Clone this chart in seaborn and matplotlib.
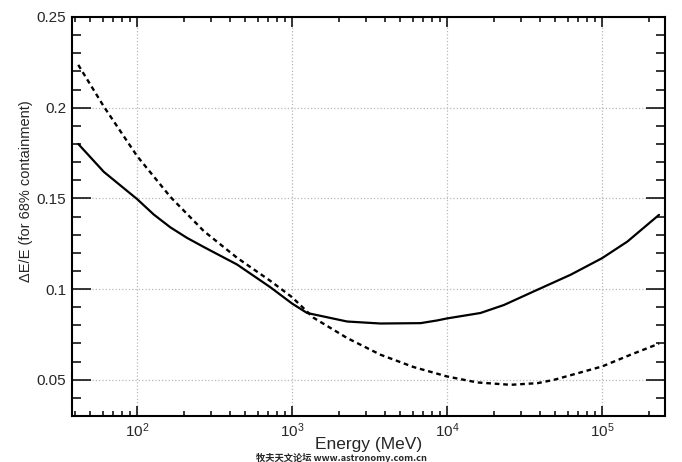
import matplotlib
matplotlib.use("Agg")
import matplotlib.pyplot as plt
import matplotlib.ticker as mticker
import pandas as pd
import seaborn as sns

# --- DATA ---
# solid curve
energy_solid = [41.7, 61, 100, 128, 164, 210, 269, 442, 724, 1000, 1250, 2265, 3715,
                6745, 8650, 10000, 16440, 23280, 38280, 62800, 100000, 145900, 233300]
res_solid = [0.180, 0.1646, 0.1496, 0.1411, 0.1340, 0.1282, 0.1232, 0.1135, 0.101,
             0.0920, 0.0868, 0.0821, 0.0810, 0.0812, 0.0827, 0.0838, 0.0868, 0.0912,
             0.0996, 0.1079, 0.117, 0.1262, 0.1409]

# dashed curve
energy_dashed = [41.7, 61, 100, 164, 269, 442, 724, 1000, 1374, 2265, 3715, 6080,
                 10000, 15670, 25700, 38280, 48750, 100000, 153100, 233300]
res_dashed = [0.2236, 0.2006, 0.1733, 0.1508, 0.1320, 0.1172, 0.1045, 0.0955, 0.0842,
              0.073, 0.0638, 0.057, 0.0518, 0.0485, 0.0472, 0.0481, 0.0499, 0.0573,
              0.0638, 0.0699]

y_ticks = [0.05, 0.1, 0.15, 0.2, 0.25]

XLIM = (38, 2.55e5)
YLIM = (0.03, 0.25)

sns.set_theme(style="white")
plt.rcParams['font.family'] = ['Liberation Sans', 'DejaVu Sans']
plt.rcParams['mathtext.fontset'] = 'custom'
plt.rcParams['mathtext.rm'] = 'Liberation Sans'
plt.rcParams['mathtext.it'] = 'Liberation Sans:italic'
plt.rcParams['mathtext.bf'] = 'Liberation Sans:bold'

fig = plt.figure(figsize=(6.82, 4.62), dpi=100)
ax = fig.add_axes([72 / 682, 1 - 416 / 462, 593 / 682, 399 / 462])

solid = pd.DataFrame({'E': energy_solid, 'res': res_solid})
dashed = pd.DataFrame({'E': energy_dashed, 'res': res_dashed})

sns.lineplot(data=solid, x='E', y='res', ax=ax, color='black', linewidth=1.6,
             estimator=None, sort=False)
sns.lineplot(data=dashed, x='E', y='res', ax=ax, color='black', linewidth=1.7,
             estimator=None, sort=False)
ax.lines[-1].set_dashes((2.0, 1.6))

ax.set_xscale('log')
ax.set_xlim(*XLIM)
ax.set_ylim(*YLIM)

ax.set_yticks(y_ticks)
ax.yaxis.set_major_formatter(mticker.FuncFormatter(lambda v, p: f"{v:g}"))
ax.yaxis.set_minor_locator(mticker.MultipleLocator(0.01))
ax.xaxis.set_major_locator(mticker.LogLocator(base=10))
ax.xaxis.set_minor_locator(mticker.LogLocator(base=10, subs=range(2, 10)))
ax.xaxis.set_minor_formatter(mticker.NullFormatter())

ax.grid(True, which='major', linestyle=':', color='#b8b8b8', linewidth=0.9)

for s in ax.spines.values():
    s.set_linewidth(1.5)
    s.set_color('black')

# ticks inside on all four sides
ax.tick_params(axis='both', which='both', direction='in',
               left=True, right=True, bottom=True, top=True,
               color='black', width=1.1, labelsize=11, pad=4)
ax.tick_params(axis='y', which='major', length=13.5)
ax.tick_params(axis='y', which='minor', length=6.7)
ax.tick_params(axis='x', which='major', length=7.5)
ax.tick_params(axis='x', which='minor', length=3.5)

ax.set_xlabel('Energy (MeV)', fontsize=12.5, labelpad=-2)
ax.set_ylabel('ΔE/E (for 68% containment)', fontsize=10.5)
ax.yaxis.set_label_coords(-0.066, 0.564)

# watermark
fig.text(0.5, 0.008, '牧夫天文论坛 www.astronomy.com.cn', ha='center', va='center',
         fontsize=6.7, fontweight='bold', family=['Noto Sans CJK SC', 'DejaVu Sans'])

fig.savefig('out.png', dpi=100)
